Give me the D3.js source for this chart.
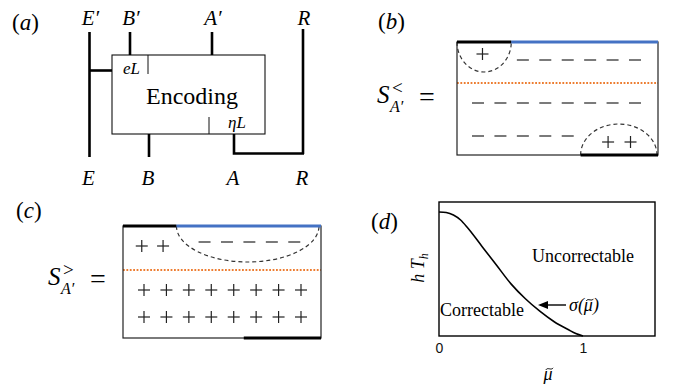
<!DOCTYPE html>
<html>
<head>
<meta charset="utf-8">
<script src="https://cdn.jsdelivr.net/npm/d3@7"></script>
<style>
  body { margin: 0; background: #fff; }
  svg { display: block; }
</style>
</head>
<body>
<svg id="fig" width="686" height="392"></svg>
<script>
const blue = "#4472c4"
const orange = "#ed7d31"
const serif = "'Liberation Serif', 'Times New Roman', serif"
const sans = "'Liberation Sans', Arial, sans-serif"

// (a) wire names
const topLabels = ["E", "B", "A", "R"]
const bottomLabels = ["E", "B", "A", "R"]

// (b) signs: row index, column indices
const signsB = [
  { row: 0, cols: [0.2], sign: "+" },
  { row: 1, cols: [2, 3, 4, 5, 6, 7], sign: "−" },
  { row: 2, cols: [0, 1, 2, 3, 4, 5, 6, 7], sign: "−" },
  { row: 3, cols: [0, 1, 2, 3, 4], sign: "−" },
  { row: 4, cols: [5.8, 6.8], sign: "+" }
]
// (c) signs
const signsC = [
  { row: 0, cols: [-0.1, 0.85], sign: "+" },
  { row: 1, cols: [2.7, 3.7, 4.7, 5.7, 6.7], sign: "−" },
  { row: 2, cols: [0, 1, 2, 3, 4, 5, 6, 7], sign: "+" },
  { row: 3, cols: [0, 1, 2, 3, 4, 5, 6, 7], sign: "+" }
]

// (d) threshold curve sigma(mu)
const muVals = [0, 0.05, 0.1, 0.15, 0.2, 0.3, 0.4, 0.5, 0.6, 0.7, 0.8, 0.9, 0.95, 1]
const sigmaVals = [1, 0.995, 0.975, 0.935, 0.87, 0.72, 0.57, 0.42, 0.3, 0.2, 0.115, 0.05, 0.02, 0]
const xTicks = [0, 1]

const svg = d3.select('#fig')

const panelLabel = (x, y, letter) => {
  const t = svg.append('text')
    .attr('x', x).attr('y', y)
    .style('font-family', serif)
    .style('font-size', '23px')
  t.append('tspan').text('(')
  t.append('tspan').style('font-style', 'italic').text(letter)
  t.append('tspan').text(')')
}

const mathText = (g, x, y, txt, size, anchor) => g.append('text')
  .attr('x', x).attr('y', y)
  .attr('text-anchor', anchor || 'middle')
  .style('font-family', serif)
  .style('font-style', 'italic')
  .style('font-size', size + 'px')
  .text(txt)

// draw a small tilde over character i of a text node
const addTilde = (g, textSel, i, size) => {
  const b = textSel.node().getExtentOfChar(i)
  const cx = b.x + b.width / 2 + 1.5
  const cy = +textSel.attr('y') - size * 0.62
  const r = size * 0.2
  g.append('path')
    .attr('d', `M${cx - r},${cy + 1} C${cx - r / 2},${cy - 2} ${cx + r / 2},${cy + 2} ${cx + r},${cy - 1}`)
    .attr('fill', 'none').attr('stroke', '#000').attr('stroke-width', 1)
}

// ---------- (a) ----------
panelLabel(12, 30, 'a')
const ga = svg.append('g')
const box = { x0: 112, x1: 265, y0: 55, y1: 134 }
const wireX = [89.5, 130, 212, 303]
const wireXb = [89.5, 149, 234, 303]

ga.append('rect')
  .attr('x', box.x0).attr('y', box.y0)
  .attr('width', box.x1 - box.x0).attr('height', box.y1 - box.y0)
  .attr('fill', 'none').attr('stroke', '#111').attr('stroke-width', 1.1)

const wires = [
  [[wireX[0], 32], [wireX[0], 157]],
  [[wireX[0], 70.5], [box.x0, 70.5]],
  [[wireX[1], 32], [wireX[1], box.y0]],
  [[wireX[2], 32], [wireX[2], box.y0]],
  [[wireX[3], 29], [wireX[3], 154]],
  [[wireXb[1], box.y1], [wireXb[1], 157]],
  [[wireXb[2], box.y1], [wireXb[2], 153.5], [wireX[3] + 1, 153.5]]
]
ga.selectAll('path.wire')
  .data(wires).enter()
  .append('path')
    .attr('d', d3.line())
    .attr('fill', 'none')
    .attr('stroke', '#000')
    .attr('stroke-width', 2.6)

ga.append('line').attr('x1', 148).attr('x2', 148).attr('y1', box.y0).attr('y2', 74)
  .attr('stroke', '#111').attr('stroke-width', 1)
ga.append('line').attr('x1', 209).attr('x2', 209).attr('y1', 117).attr('y2', box.y1)
  .attr('stroke', '#111').attr('stroke-width', 1)

topLabels.forEach((d, i) => mathText(ga, wireX[i] + 1, 25, d === 'R' ? d : d + '′', 21))
bottomLabels.forEach((d, i) => mathText(ga, wireXb[i] - 1, 185, d, 21))

mathText(ga, 123, 74, 'eL', 17, 'start')
mathText(ga, 228, 128, 'ηL', 17, 'start')
ga.append('text')
  .attr('x', 192).attr('y', 104)
  .attr('text-anchor', 'middle')
  .style('font-family', serif)
  .style('font-size', '24px')
  .text('Encoding')

// ---------- (b) and (c) ----------
const drawSigns = (cfg) => {
  const g = svg.append('g')
  const fx = d3.scaleLinear().domain([0, 1]).range([cfg.x0, cfg.x1])
  const col = d3.scaleLinear().domain([0, 7]).range([cfg.x0 + 21, cfg.x0 + 178])

  // orange boundary line
  g.append('line')
    .attr('x1', cfg.x0).attr('x2', cfg.x1)
    .attr('y1', cfg.midY).attr('y2', cfg.midY)
    .attr('stroke', orange).attr('stroke-width', 2.2)
    .attr('stroke-dasharray', '1.8,1.6')

  g.append('rect')
    .attr('x', cfg.x0).attr('y', cfg.y0)
    .attr('width', cfg.x1 - cfg.x0).attr('height', cfg.y1 - cfg.y0)
    .attr('fill', 'none').attr('stroke', '#222').attr('stroke-width', 1.2)

  // bubbles
  cfg.bubbles.forEach(b => {
    const a = fx(b.from), c = fx(b.to)
    const y = b.edge === 'top' ? cfg.y0 : cfg.y1
    const rx = (c - a) / 2
    g.append('path')
      .attr('d', `M${a},${y} A${rx},${b.depth} 0 0 ${b.edge === 'top' ? 0 : 1} ${c},${y}`)
      .attr('fill', 'none').attr('stroke', '#333').attr('stroke-width', 1.2)
      .attr('stroke-dasharray', '4,3')
  })

  // thick edge segments
  cfg.edges.forEach(e => {
    const y = e.edge === 'top' ? cfg.y0 : cfg.y1
    g.append('line')
      .attr('x1', fx(e.from)).attr('x2', fx(e.to))
      .attr('y1', y).attr('y2', y)
      .attr('stroke', e.color).attr('stroke-width', 3.2)
  })

  // signs
  cfg.signs.forEach(r => {
    const y = cfg.y0 + cfg.rowY[r.row]
    r.cols.forEach(c => {
      const x = col(c)
      g.append('line')
        .attr('x1', x - 6).attr('x2', x + 6).attr('y1', y).attr('y2', y)
        .attr('stroke', '#222').attr('stroke-width', 1.2)
      if (r.sign === '+') {
        g.append('line')
          .attr('x1', x).attr('x2', x).attr('y1', y - 6).attr('y2', y + 6)
          .attr('stroke', '#222').attr('stroke-width', 1.2)
      }
    })
  })

  // S label
  const lx = cfg.labelX, ly = cfg.labelY
  mathText(svg, lx, ly, 'S', 25, 'start')
  svg.append('text').attr('x', lx + 15).attr('y', ly - 9)
    .style('font-family', serif).style('font-size', '19px').text(cfg.rel)
  mathText(svg, lx + 13, ly + 9, 'A′', 16, 'start')
  svg.append('text').attr('x', lx + 42).attr('y', ly + 3)
    .style('font-family', serif).style('font-size', '28px').text('=')
}

panelLabel(378, 29, 'b')
drawSigns({
  x0: 457, x1: 658, y0: 42, y1: 155, midY: 83,
  rowY: [12, 18, 61, 94, 100],
  signs: signsB,
  edges: [
    { edge: 'top', from: 0, to: 0.27, color: '#000' },
    { edge: 'top', from: 0.27, to: 1, color: blue },
    { edge: 'bottom', from: 0.615, to: 1, color: '#000' }
  ],
  bubbles: [
    { edge: 'top', from: 0, to: 0.27, depth: 30 },
    { edge: 'bottom', from: 0.615, to: 0.995, depth: 31 }
  ],
  rel: '<', labelX: 377, labelY: 103
})

panelLabel(16, 218, 'c')
drawSigns({
  x0: 123, x1: 321, y0: 226, y1: 338, midY: 270,
  rowY: [20, 16, 64, 91],
  signs: signsC,
  edges: [
    { edge: 'top', from: 0, to: 0.27, color: '#000' },
    { edge: 'top', from: 0.27, to: 1, color: blue },
    { edge: 'bottom', from: 0.61, to: 1, color: '#000' }
  ],
  bubbles: [
    { edge: 'top', from: 0.27, to: 0.99, depth: 36 }
  ],
  rel: '>', labelX: 48, labelY: 285
})

// ---------- (d) ----------
panelLabel(371, 229, 'd')
const x = d3.scaleLinear().domain([0, 1.5]).range([439, 655])
const y = d3.scaleLinear().domain([0, 1.08]).range([336, 202])
const gd = svg.append('g')

gd.append('g')
  .attr('transform', `translate(0,${y(0)})`)
  .call(d3.axisBottom(x).tickValues(xTicks).tickSize(0).tickPadding(7).tickFormat(d3.format('d')))
  .call(g => g.select('.domain').remove())
  .call(g => g.selectAll('.tick text')
    .style('font-family', sans)
    .style('font-size', '14px')
    .attr('fill', '#111'))

gd.append('path')
  .attr('d', d3.line().x(d => x(d[0])).y(d => y(d[1])).curve(d3.curveMonotoneX)(d3.zip(muVals, sigmaVals)))
  .attr('fill', 'none').attr('stroke', '#000').attr('stroke-width', 1.6)

gd.append('rect')
  .attr('x', x(0)).attr('y', y(1.08))
  .attr('width', x(1.5) - x(0)).attr('height', y(0) - y(1.08))
  .attr('fill', 'none').attr('stroke', '#000').attr('stroke-width', 1.4)

gd.append('text')
  .attr('x', 583).attr('y', 262).attr('text-anchor', 'middle')
  .style('font-family', serif).style('font-size', '18px')
  .text('Uncorrectable')
gd.append('text')
  .attr('x', 440).attr('y', 316)
  .style('font-family', serif).style('font-size', '18px')
  .text('Correctable')

// arrow pointing at the curve
gd.append('line').attr('x1', 566).attr('x2', 546).attr('y1', 305).attr('y2', 305)
  .attr('stroke', '#000').attr('stroke-width', 1.4)
gd.append('path').attr('d', 'M538,305 L548,301 L548,309 Z').attr('fill', '#000')
const sig = mathText(gd, 569, 311, 'σ(μ)', 18, 'start')
addTilde(gd, sig, 2, 18)

const xl = mathText(gd, 548, 380, 'μ', 18)
addTilde(gd, xl, 0, 18)

const yl = gd.append('text')
  .attr('transform', 'translate(424,268) rotate(-90)')
  .attr('text-anchor', 'middle')
  .style('font-family', serif).style('font-style', 'italic').style('font-size', '18px')
yl.append('tspan').text('h T')
yl.append('tspan').attr('dy', 4).style('font-size', '12px').text('h')
</script>
</body>
</html>
